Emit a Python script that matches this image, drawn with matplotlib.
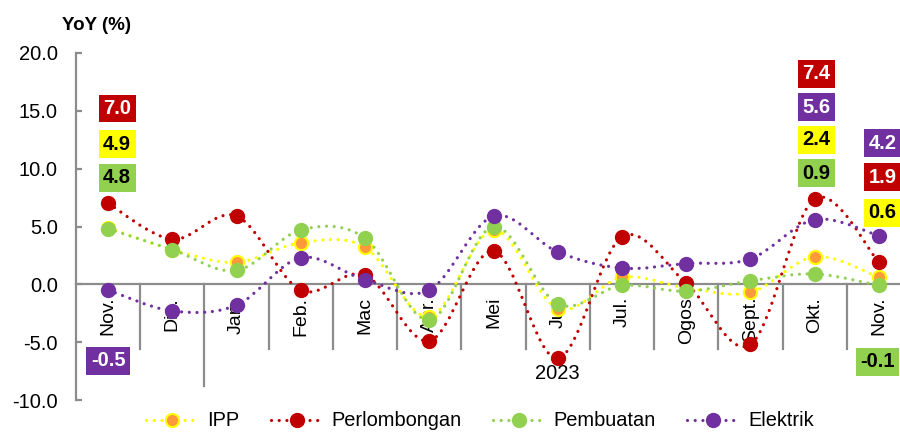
import matplotlib
matplotlib.use("Agg")
import matplotlib.pyplot as plt
from matplotlib.path import Path
from matplotlib.patches import PathPatch
from matplotlib.lines import Line2D
import numpy as np

# ------------------------------------
# Data
# ------------------------------------

months = ["Nov.", "Dis.", "Jan.", "Feb.", "Mac", "Apr.", "Mei",
          "Jun", "Jul.", "Ogos", "Sept.", "Okt.", "Nov."]

ipp = [4.9, 3.0, 1.9, 3.6, 3.2, -2.8, 4.7, -2.1, 0.6, -0.3, -0.7, 2.4, 0.6]
perlombongan = [7.0, 3.9, 5.9, -0.5, 0.8, -4.9, 2.9, -6.4, 4.1, 0.1, -5.2, 7.4, 1.9]
pembuatan = [4.8, 3.0, 1.2, 4.7, 4.0, -3.1, 5.0, -1.7, -0.1, -0.6, 0.3, 0.9, -0.1]
elektrik = [-0.5, -2.3, -1.8, 2.3, 0.4, -0.5, 5.9, 2.8, 1.4, 1.8, 2.2, 5.6, 4.2]

year_label = "2023"

# ------------------------------------
# Style
# ------------------------------------

plt.rcParams["font.family"] = ["Liberation Sans", "DejaVu Sans"]

RED = "#C00000"
YELLOW = "#FFFF00"
GREEN = "#92D050"
PURPLE = "#7030A0"
ORANGE = "#FF9A3C"
GRAY = "#8C8C8C"

DOTS = (0, (0.01, 2.4))

series = [
    ("IPP", ipp, YELLOW, ORANGE, YELLOW),
    ("Perlombongan", perlombongan, RED, RED, RED),
    ("Pembuatan", pembuatan, GREEN, GREEN, GREEN),
    ("Elektrik", elektrik, PURPLE, PURPLE, PURPLE),
]


def smooth_path(xs, ys):
    # Bezier segments through the data points (Excel style smoothed line)
    pts = np.column_stack([xs, ys]).astype(float)
    n = len(pts)
    verts = [pts[0]]
    codes = [Path.MOVETO]
    for i in range(n - 1):
        p0 = pts[i - 1] if i > 0 else pts[i]
        p1 = pts[i]
        p2 = pts[i + 1]
        p3 = pts[i + 2] if i + 2 < n else pts[i + 1]
        c1 = p1 + (p2 - p0) / 6.0
        c2 = p2 - (p3 - p1) / 6.0
        verts += [c1, c2, p2]
        codes += [Path.CURVE4] * 3
    return Path(verts, codes)


fig = plt.figure(figsize=(9, 4.34), dpi=100)
ax = fig.add_axes([76 / 900, 34 / 434, 835 / 900, 347 / 434])

x = np.arange(len(months))

for k, (name, vals, lc, mfc, mec) in enumerate(series):
    patch = PathPatch(
        smooth_path(x, vals),
        facecolor="none",
        edgecolor=lc,
        linewidth=2.3,
        linestyle=DOTS,
        capstyle="round",
        zorder=3 + k,
        clip_on=False,
    )
    ax.add_patch(patch)
    ax.plot(
        x, vals,
        linestyle="none",
        marker="o",
        markersize=9.5,
        markerfacecolor=mfc,
        markeredgecolor=mec,
        markeredgewidth=1.5,
        zorder=3.5 + k,
        clip_on=False,
    )

ax.set_xlim(-0.5, len(months) - 0.5)
ax.set_ylim(-10, 20)
ax.set_yticks([-10, -5, 0, 5, 10, 15, 20])
ax.set_yticklabels([f"{v:.1f}" for v in [-10, -5, 0, 5, 10, 15, 20]])

for s in ["top", "right"]:
    ax.spines[s].set_visible(False)
ax.spines["left"].set_color(GRAY)
ax.spines["left"].set_linewidth(1.6)
ax.spines["bottom"].set_position(("data", 0))
ax.spines["bottom"].set_color(GRAY)
ax.spines["bottom"].set_linewidth(1.6)
ax.spines["bottom"].set_zorder(2)

ax.tick_params(axis="y", direction="in", length=4.5, width=1.6, color=GRAY,
               labelsize=14.5, pad=13)
ax.set_xticks(x)
ax.set_xticklabels(months, rotation=90)
ax.tick_params(axis="x", length=0, labelsize=14, pad=9)

# category separators below the zero line
for i in range(len(months) - 1):
    low = -8.75 if i == 1 else -5.55
    ax.plot([i + 0.5, i + 0.5], [0, low], color=GRAY, linewidth=1.6,
            zorder=1, clip_on=False)

ax.text(7, -7.7, year_label, ha="center", va="center", fontsize=14.5)

fig.text(96 / 900, 1 - 25 / 434, "YoY (%)", ha="center", va="center",
         fontsize=13.5, fontweight="bold")

# ------------------------------------
# Value boxes
# ------------------------------------

boxes = [
    (0.14, 15.2, perlombongan[0], RED, "white"),
    (0.14, 12.1, ipp[0], YELLOW, "black"),
    (0.14, 9.2, pembuatan[0], GREEN, "black"),
    (0.0, -6.6, elektrik[0], PURPLE, "white"),
    (11.03, 18.2, perlombongan[11], RED, "white"),
    (11.03, 15.3, elektrik[11], PURPLE, "white"),
    (11.03, 12.5, ipp[11], YELLOW, "black"),
    (11.03, 9.6, pembuatan[11], GREEN, "black"),
    (12.06, 12.2, elektrik[12], PURPLE, "white"),
    (12.06, 9.25, perlombongan[12], RED, "white"),
    (12.06, 6.2, ipp[12], YELLOW, "black"),
    (11.98, -6.7, pembuatan[12], GREEN, "black"),
]

for bx, by, val, bg, fg in boxes:
    ax.text(bx, by, f"{val:.1f}", ha="center", va="center",
            fontsize=14.5, fontweight="bold", color=fg, zorder=10,
            clip_on=False,
            bbox=dict(boxstyle="square,pad=0.22", facecolor=bg,
                      edgecolor="none"))

# ------------------------------------
# Legend
# ------------------------------------

handles = []
for name, vals, lc, mfc, mec in series:
    handles.append(Line2D([0], [0], color=lc, linewidth=2.3,
                          linestyle=DOTS, dash_capstyle="round",
                          marker="o", markersize=9.5, markerfacecolor=mfc,
                          markeredgecolor=mec, markeredgewidth=1.5))

fig.legend(
    handles,
    [s[0] for s in series],
    loc="center",
    bbox_to_anchor=(480 / 900, 13 / 434),
    ncol=4,
    frameon=False,
    fontsize=14.4,
    handlelength=2.6,
    handletextpad=0.45,
    columnspacing=1.55,
    numpoints=1,
)

fig.savefig("out.png", dpi=100)
